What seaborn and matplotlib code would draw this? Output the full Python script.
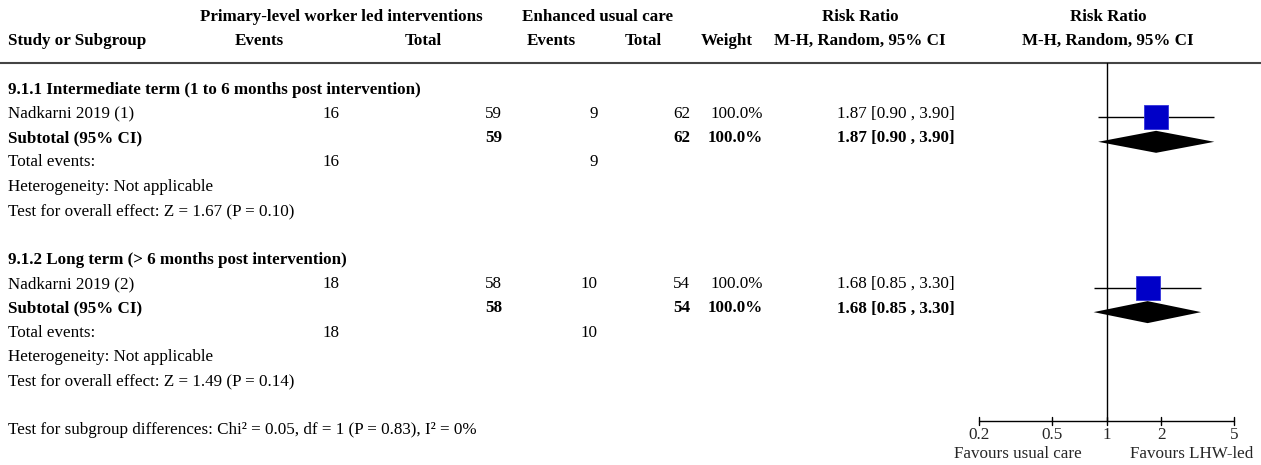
import numpy as np
import matplotlib
matplotlib.use("Agg")
import matplotlib.pyplot as plt
import seaborn as sns
import pandas as pd

# ---------------- data ----------------
studies = ["Nadkarni 2019 (1)", "Nadkarni 2019 (2)"]
subgroups = ["9.1.1 Intermediate term (1 to 6 months post intervention)",
             "9.1.2 Long term (> 6 months post intervention)"]
exp_events = [16, 18]
exp_total = [59, 58]
ctrl_events = [9, 10]
ctrl_total = [62, 54]
weights = [100.0, 100.0]
rr = [1.87, 1.68]
ci_low = [0.90, 0.85]
ci_high = [3.90, 3.30]
sub_rr = [1.87, 1.68]
sub_low = [0.90, 0.85]
sub_high = [3.90, 3.30]
overall_tests = ["Test for overall effect: Z = 1.67 (P = 0.10)",
                 "Test for overall effect: Z = 1.49 (P = 0.14)"]
heterogeneity = ["Heterogeneity: Not applicable", "Heterogeneity: Not applicable"]
subgroup_test = "Test for subgroup differences: Chi\u00b2 = 0.05, df = 1 (P = 0.83), I\u00b2 = 0%"
tick_values = [0.2, 0.5, 1, 2, 5]
tick_labels = ["0.2", "0.5", "1", "2", "5"]
favours = ["Favours usual care", "Favours LHW-led"]

# ---------------- style ----------------
sns.set_theme(style="white")
plt.rcParams["font.family"] = ["Liberation Serif", "DejaVu Serif"]
FS = 12.25

W, H = 1261, 465
fig = plt.figure(figsize=(W / 100, H / 100), dpi=100)

# row geometry: row k centre at pixel y = 89 + 24.33*k
ROW0, DR = 89.5, 24.33
ytop = (0 - ROW0) / DR
ybot = (H - ROW0) / DR

axt = fig.add_axes([0, 0, 1, 1])
axt.set_xlim(0, W)
axt.set_ylim(ybot, ytop)
axt.axis("off")

# forest axes: log scale, 0.2 -> px 979, 5 -> px 1234
px_per_dec = (1234 - 979) / np.log10(25)
lo = 10 ** (np.log10(0.2) - 979 / px_per_dec)
hi = 10 ** (np.log10(5) + (W - 1234) / px_per_dec)
axf = fig.add_axes([0, 0, 1, 1], facecolor="none")

def txt(x, k, s, ha="left", bold=False):
    axt.text(x, k, s, ha=ha, va="center", fontsize=FS,
             fontweight="bold" if bold else "normal", color="black")

# headers
txt(341, -3, "Primary-level worker led interventions", "center", True)
txt(598, -3, "Enhanced usual care", "center", True)
txt(860, -3, "Risk Ratio", "center", True)
txt(1108, -3, "Risk Ratio", "center", True)
txt(8, -2, "Study or Subgroup", "left", True)
txt(259, -2, "Events", "center", True)
txt(423, -2, "Total", "center", True)
txt(551, -2, "Events", "center", True)
txt(643, -2, "Total", "center", True)
txt(753, -2, "Weight", "right", True)
txt(860, -2, "M-H, Random, 95% CI", "center", True)
txt(1108, -2, "M-H, Random, 95% CI", "center", True)
hline_k = (63 - ROW0) / DR
axt.plot([0, W], [hline_k, hline_k], color="#444444", lw=1.5)

# rows
study_rows, sub_rows = [], []
for g in range(2):
    base = g * 7
    txt(8, base, subgroups[g], bold=True)
    r1, r2 = base + 1, base + 2
    study_rows.append(r1)
    sub_rows.append(r2)
    txt(8, r1, studies[g])
    txt(340, r1, str(exp_events[g]), "right")
    txt(502, r1, str(exp_total[g]), "right")
    txt(598, r1, str(ctrl_events[g]), "right")
    txt(690, r1, str(ctrl_total[g]), "right")
    txt(763, r1, f"{weights[g]:.1f}%", "right")
    txt(955, r1, f"{rr[g]:.2f} [{ci_low[g]:.2f} , {ci_high[g]:.2f}]", "right")
    txt(8, r2, "Subtotal (95% CI)", bold=True)
    txt(502, r2, str(exp_total[g]), "right", True)
    txt(690, r2, str(ctrl_total[g]), "right", True)
    txt(763, r2, f"{weights[g]:.1f}%", "right", True)
    txt(955, r2, f"{sub_rr[g]:.2f} [{sub_low[g]:.2f} , {sub_high[g]:.2f}]", "right", True)
    txt(8, base + 3, "Total events:")
    txt(340, base + 3, str(exp_events[g]), "right")
    txt(598, base + 3, str(ctrl_events[g]), "right")
    txt(8, base + 4, heterogeneity[g])
    txt(8, base + 5, overall_tests[g])

txt(8, 14.0, subgroup_test)

# forest marks
mk_off = 0.15
df = pd.DataFrame({"rr": rr, "row": np.array(study_rows) + mk_off})
axf.hlines(df["row"], ci_low, ci_high, color="black", lw=1)
sns.scatterplot(data=df, x="rr", y="row", marker="s", s=280, color="#0000C8",
                edgecolor="#3333DD", linewidth=0.6, ax=axf, zorder=3, legend=False)
axf.set_xscale("log")
axf.set_xlim(lo, hi)
axf.set_ylim(ybot, ytop)
axf.axis("off")

dh = 11 / DR
for g in range(2):
    yc = sub_rows[g] + mk_off
    axf.fill([sub_low[g], sub_rr[g], sub_high[g], sub_rr[g]],
             [yc, yc - dh, yc, yc + dh], color="black", lw=0, zorder=3)

# null line and axis
axis_k = (421 - ROW0) / DR
axf.plot([1, 1], [hline_k, axis_k], color="black", lw=1)
axf.plot([tick_values[0], tick_values[-1]], [axis_k, axis_k], color="black", lw=1)
tk = 4 / DR
for v, lab in zip(tick_values, tick_labels):
    axf.plot([v, v], [axis_k - tk, axis_k + tk], color="black", lw=1)
    axf.text(v, (435 - ROW0) / DR, lab, ha="center", va="center", fontsize=FS)
axf.text(10 ** (np.log10(0.2) + (1018 - 979) / px_per_dec), (453.5 - ROW0) / DR,
         favours[0], ha="center", va="center", fontsize=FS)
axf.text(10 ** (np.log10(0.2) + (1192 - 979) / px_per_dec), (453.5 - ROW0) / DR,
         favours[1], ha="center", va="center", fontsize=FS)

fig.savefig("out.png", dpi=100, facecolor="white")
